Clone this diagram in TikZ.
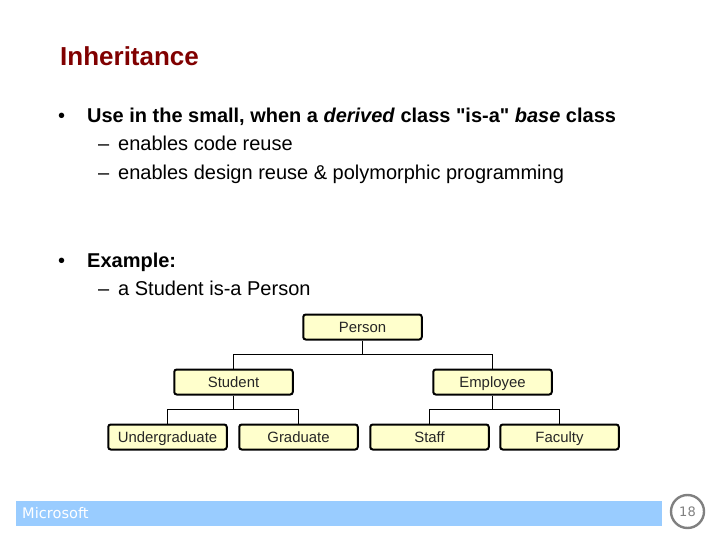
\documentclass[tikz,border=0pt]{standalone}
\usepackage{fontspec}
\setmainfont[Ligatures=TeXOff]{Liberation Sans}
\newfontfamily\footfont{DejaVu Sans}
\usepackage{xcolor}
\usetikzlibrary{positioning}
\definecolor{titlered}{HTML}{800000}
\definecolor{boxfill}{HTML}{FFFFCC}
\definecolor{barblue}{HTML}{99CCFF}
\tikzset{
    classbox/.style={draw=black, line width=2pt, rounded corners=2.5pt, fill=boxfill,
        minimum width=118.5pt, minimum height=25pt, inner sep=0pt, text height=11pt, text depth=1pt,
        font=\fontsize{14.9}{16}\selectfont, text=black!85},
    link/.style={draw=black, line width=1pt},
    linetext/.style={anchor=base west, inner sep=0pt, font=\fontsize{20}{22}\selectfont},
}
\begin{document}
\begin{tikzpicture}[x=1pt, y=-1pt, on grid]
    \useasboundingbox (0,0) rectangle (720,540);
    % Title
    \node[anchor=base west, inner sep=0pt, text=titlered, font=\fontsize{26}{30}\selectfont\bfseries] (title) at (60,66) {Inheritance};
    % Text
    \node[linetext] (dot1) at (58,123) {•};
    \node[linetext, font=\fontsize{19.97}{22}\selectfont] (use) at (87,123) {\textbf{Use in the small, when a \textit{derived} class "is-a" \textit{base} class}};
    \node[linetext] (dash1) at (98,151) {–};
    \node[linetext] (code) at (118,151) {enables code reuse};
    \node[linetext] (dash2) at (98,180) {–};
    \node[linetext] (design) at (118,180) {enables design reuse \& polymorphic programming};
    \node[linetext] (dot2) at (58,267) {•};
    \node[linetext] (example) at (87,267) {\textbf{Example:}};
    \node[linetext] (dash3) at (98,295) {–};
    \node[linetext] (student text) at (118,295) {a Student is-a Person};
    % Tree
    \node[classbox] (person) at (362.5,327) {Person};
    \node[classbox] (student) [below left=55pt and 129pt of person] {Student};
    \node[classbox] (employee) [below right=55pt and 130pt of person] {Employee};
    \node[classbox] (undergrad) [below left=55pt and 66pt of student] {Undergraduate};
    \node[classbox] (graduate) [below right=55pt and 65pt of student] {Graduate};
    \node[classbox] (staff) [below left=55pt and 63pt of employee] {Staff};
    \node[classbox] (faculty) [below right=55pt and 67pt of employee] {Faculty};
    % Links
    \coordinate (personbus) at (362.5,354.5);
    \coordinate (studentbus) at (233.5,409.5);
    \coordinate (employeebus) at (492.5,409.5);
    \draw[link] (person.south) -- (personbus);
    \draw[link] (student.north) |- (personbus) -| (employee.north);
    \draw[link] (student.south) -- (studentbus);
    \draw[link] (undergrad.north) |- (studentbus) -| (graduate.north);
    \draw[link] (employee.south) -- (employeebus);
    \draw[link] (staff.north) |- (employeebus) -| (faculty.north);
    % Footer
    \node[fill=barblue, anchor=north west, minimum width=646pt, minimum height=25pt, inner sep=0pt] (bar) at (16,501) {};
    \node[anchor=base west, inner sep=0pt, text=white, font=\footfont\fontsize{14.6}{16}\selectfont] (brand) at (22,518) {Microsoft};
    \node[circle, draw=black!50, line width=2.4pt, minimum size=33pt, inner sep=0pt, text=black!50, font=\footfont\fontsize{13}{15}\selectfont] (page) at (687.5,511.5) {18};
\end{tikzpicture}
\end{document}
